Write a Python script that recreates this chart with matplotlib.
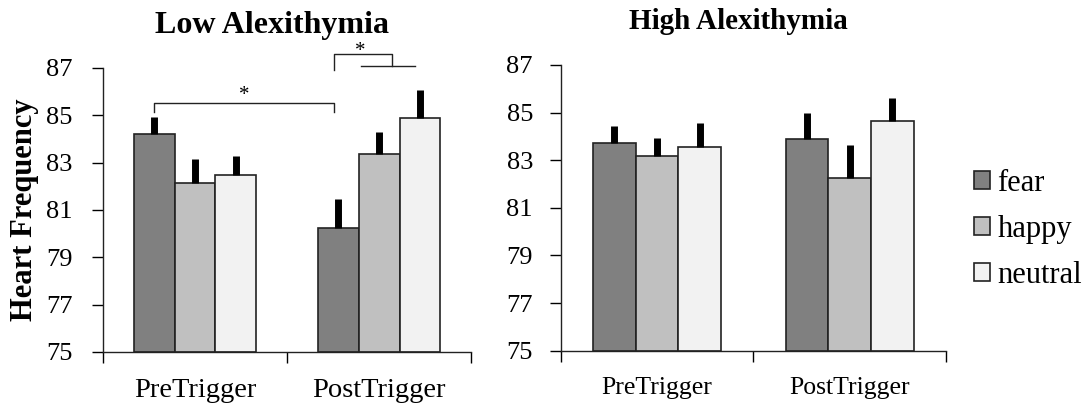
import numpy as np
import matplotlib.pyplot as plt

plt.rcParams['font.family'] = ['Liberation Serif', 'DejaVu Serif']

groups = ['PreTrigger', 'PostTrigger']
emotions = ['fear', 'happy', 'neutral']
colors = ['#808080', '#c0c0c0', '#f2f2f2']

# mean heart frequency, rows = emotions, cols = PreTrigger/PostTrigger
low_means = {'fear': [84.2, 80.24], 'happy': [82.15, 83.36], 'neutral': [82.49, 84.89]}
low_err = {'fear': [0.74, 1.23], 'happy': [1.01, 0.93], 'neutral': [0.78, 1.18]}
high_means = {'fear': [83.74, 83.89], 'happy': [83.18, 82.24], 'neutral': [83.57, 84.66]}
high_err = {'fear': [0.71, 1.08], 'happy': [0.77, 1.40], 'neutral': [1.01, 0.97]}

fig = plt.figure(figsize=(10.87, 4.03), dpi=100)
ax1 = fig.add_axes([0.0948, 0.1266, 0.3386, 0.7047])
ax2 = fig.add_axes([0.5158, 0.1298, 0.3545, 0.709])

x = np.arange(len(groups))
w = 0.222


def draw(ax, means, errs, label_size, ypad, xpad):
    handles = []
    for i, emo in enumerate(emotions):
        pos = x + (i - 1) * w
        b = ax.bar(pos, np.array(means[emo]) - 75, w, bottom=75, color=colors[i],
                   edgecolor='#222222', linewidth=1.2, zorder=2, label=emo)
        handles.append(b)
        ax.errorbar(pos, means[emo], yerr=[np.zeros(2), errs[emo]], fmt='none',
                    ecolor='black', elinewidth=5, capsize=0, zorder=3)
    ax.set_ylim(75, 87)
    ax.set_xlim(-0.5, 1.5)
    ax.set_yticks(np.arange(75, 88, 2))
    ax.set_xticks([-0.5, 0.5, 1.5])
    ax.set_xticklabels([])
    ax.set_xticks(x, minor=True)
    ax.set_xticklabels(groups, minor=True, fontsize=label_size)
    ax.tick_params(axis='x', which='minor', length=0, pad=xpad)
    ax.tick_params(axis='x', which='major', length=8, direction='out', width=1)
    ax.tick_params(axis='y', length=8, direction='out', width=1, labelsize=19, pad=ypad)
    for s in ['top', 'right']:
        ax.spines[s].set_visible(False)
    for s in ['left', 'bottom']:
        ax.spines[s].set_linewidth(1)
        ax.spines[s].set_color('#222222')
    return handles


draw(ax1, low_means, low_err, 20.5, 14, 19)
handles = draw(ax2, high_means, high_err, 18.5, 12, 19)

ax1.set_title('Low Alexithymia', fontsize=23, fontweight='bold', x=0.46, y=1.123, pad=0)
ax2.set_title('High Alexithymia', fontsize=21, fontweight='bold', x=0.462, y=1.125, pad=0)
ax1.set_ylabel('Heart Frequency', fontsize=22, fontweight='bold')
ax1.yaxis.set_label_coords(-0.175, 0.5)

# significance brackets (left panel)
kw = dict(color='#222222', linewidth=1, clip_on=False)
xa, xb = x[0] - w, x[1] - w * 1.1
ax1.plot([xa, xa, xb, xb], [85.16, 85.51, 85.51, 85.16], **kw)
ax1.text((xa + xb) / 2, 85.85, '*', ha='center', va='center', fontsize=15)
xc = x[1] + 0.07
ax1.plot([xb, xb, xc, xc], [86.92, 87.58, 87.58, 87.1], **kw)
ax1.plot([x[1] - 0.1, x[1] + w * 0.88], [87.1, 87.1], **kw)
ax1.text(x[1] - 0.1, 87.7, '*', ha='center', va='center', fontsize=15, clip_on=False)

fig.legend(handles, emotions, loc='center left', bbox_to_anchor=(0.871, 0.431),
           frameon=False, fontsize=22, handlelength=0.51, handleheight=0.51,
           handletextpad=0.25, labelspacing=0.55)

fig.savefig('out.png', dpi=100)
